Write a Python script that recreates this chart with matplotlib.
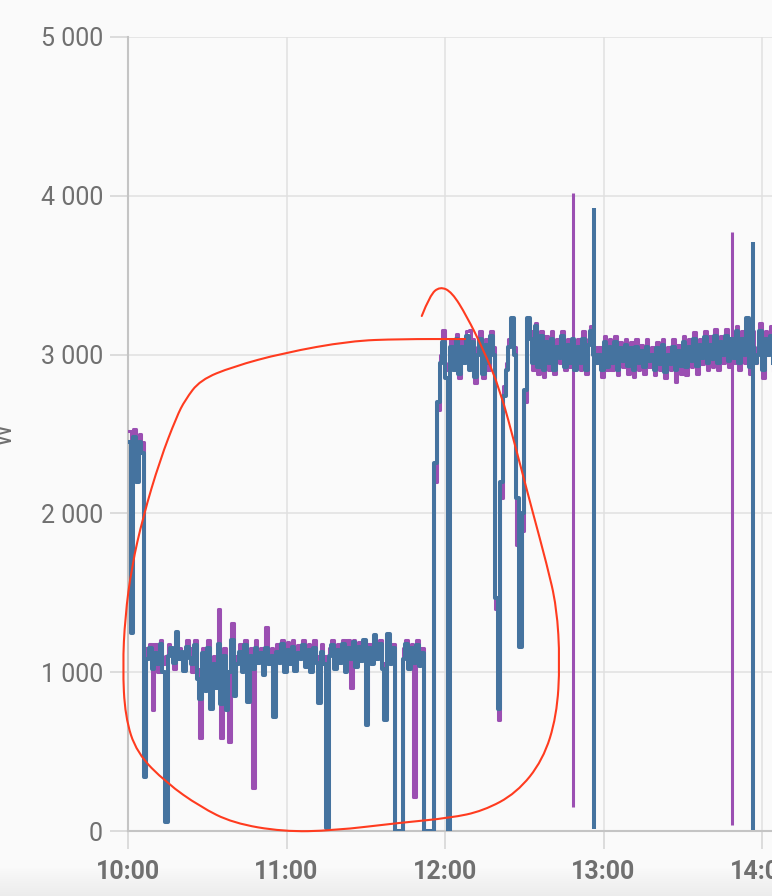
import numpy as np
import matplotlib
matplotlib.use('Agg')
import matplotlib.pyplot as plt
from matplotlib.ticker import FuncFormatter, FixedLocator
from matplotlib.colors import LinearSegmentedColormap
from matplotlib.path import Path
from matplotlib.patches import PathPatch

plt.rcParams['font.family'] = ['Roboto', 'DejaVu Sans']

# minutes after 10:00, one reading per minute
minutes = np.arange(245)

blue_w = [
    2450, 1250, 2480, 2200, 2450, 2380, 340, 1080, 1150, 1020,
    1120, 1050, 1180, 1000, 59, 1100, 1150, 1060, 1255, 1080,
    1130, 1010, 1160, 1090, 1050, 1170, 960, 830, 1120, 880,
    1150, 770, 1050, 900, 1180, 800, 1100, 760, 1000, 1200,
    850, 1050, 1130, 1000, 1170, 814, 1100, 1020, 1150, 1060,
    1120, 980, 1150, 1050, 1100, 720, 1130, 1060, 1180, 1000,
    1140, 1050, 1160, 1010, 1120, 1080, 1170, 1030, 1140, 1000,
    1150, 1060, 806, 1130, 1050, 19, 1100, 1170, 1020, 1140,
    1060, 1180, 1000, 1150, 1080, 1190, 1030, 1160, 1070, 1200,
    667, 1150, 1050, 1234, 1080, 1180, 1020, 700, 1240, 1050,
    1150, 0, 0, 0, 1080, 1180, 1020, 1150, 1060, 1170,
    1040, 1120, 0, 0, 0, 0, 2320, 2700, 2950, 3080,
    2850, 0, 3050, 2900, 3100, 2880, 3050, 2950, 3120, 2900,
    3080, 2860, 3000, 3100, 2880, 3060, 2950, 3120, 3000, 1470,
    768, 2200, 2740, 2900, 3050, 3230, 3000, 2100, 1160, 2000,
    2780, 3230, 3100, 2950, 3180, 2920, 3120, 2900, 3080, 2950,
    3100, 2900, 3050, 2980, 3120, 2920, 3060, 2950, 3100, 2900,
    3050, 2950, 3100, 2900, 3060, 3150, 3000, 2950, 3000, 2900,
    3080, 2920, 3050, 2950, 3080, 2900, 3040, 2960, 3060, 2930,
    3040, 2900, 3050, 2950, 3020, 2920, 3050, 2960, 3000, 2900,
    3040, 2940, 3060, 2890, 3000, 2940, 3050, 2900, 3020, 2930,
    3080, 2920, 3050, 2960, 3100, 2930, 3060, 2980, 3110, 2950,
    3060, 2970, 3120, 2950, 3080, 3000, 3120, 2960, 3100, 2980,
    3150, 2950, 3100, 3000, 3230, 2920, 3050, 2950, 3000, 3150,
    2900, 3100, 3000, 3120, 2950,
]

purple_w = [
    2520, 2300, 2530, 2350, 2500, 2450, 384, 1150, 1180, 762,
    1180, 1000, 1200, 1050, 1100, 1180, 1120, 1020, 1200, 1150,
    1100, 1050, 1200, 1150, 1000, 1200, 1020, 585, 1150, 950,
    1200, 820, 1100, 950, 1398, 585, 1150, 820, 562, 1310,
    900, 1100, 1180, 1050, 1200, 850, 1150, 270, 1200, 1100,
    1150, 1050, 1285, 1100, 1150, 1000, 1180, 1100, 1200, 1050,
    1190, 1100, 1200, 1050, 1170, 1120, 1200, 1080, 1180, 1050,
    1200, 1100, 850, 1180, 1100, 950, 1150, 1200, 1050, 1180,
    1100, 1200, 1050, 1200, 900, 1200, 1080, 1190, 1100, 1200,
    750, 1180, 1100, 1200, 1120, 1200, 1060, 750, 1200, 1100,
    1180, 0, 0, 0, 1150, 1200, 1050, 1180, 214, 1200,
    1080, 1150, 0, 0, 0, 0, 2200, 2650, 3000, 3155,
    2900, 2950, 3100, 2950, 3130, 2850, 3100, 3000, 3150, 3155,
    3100, 2820, 3050, 3150, 2850, 3100, 2900, 3150, 3050, 1400,
    700, 2100, 2800, 2950, 3100, 3150, 3050, 1800, 1400, 1890,
    2700, 3200, 3150, 2900, 3200, 2880, 3150, 2860, 3120, 2900,
    3150, 2880, 3100, 2950, 3150, 2900, 3100, 2920, 3050, 2950,
    3100, 2900, 3150, 2880, 3100, 3180, 3050, 2950, 3050, 2860,
    3120, 2900, 3100, 2900, 3120, 2870, 3080, 2920, 3100, 2880,
    3080, 2860, 3100, 2900, 3060, 2880, 3100, 2920, 3050, 2870,
    3080, 2900, 3100, 2850, 3050, 2900, 3100, 2830, 3060, 2880,
    3120, 2870, 3100, 2920, 3140, 2880, 3100, 2940, 3150, 2900,
    3120, 2920, 3160, 2900, 3120, 2950, 3160, 2920, 3100, 2950,
    3180, 2900, 3150, 2950, 3200, 2880, 3150, 2950, 3050, 3200,
    2850, 3150, 3050, 3180, 2900,
]

# single-reading surges that swing the full range (minute, low W, high W)
blue_spike_min = [176.5, 236.5]
blue_spike_low = [15, 6]
blue_spike_high = [3925, 3709]
purple_spike_min = [168.5, 228.5]
purple_spike_low = [153, 38]
purple_spike_high = [4020, 3770]

# hand-drawn red loop (minutes after 10:00, W)
loop_min = [111.2, 114.3, 118.1, 122.6, 128.2, 134.4, 140.8, 147.1, 153.3, 158.5,
            162.3, 163.5, 162.3, 157.1, 147.1, 134.4, 121.9, 103.0, 77.6, 58.7,
            39.7, 27.3, 14.6, 3.3, -1.1, -2.0, -1.1, 1.4, 5.7, 12.1,
            18.4, 21.6, 27.3, 39.7, 58.7, 84.0, 103.0, 127.6]
loop_w = [3243, 3375, 3429, 3394, 3243, 3035, 2783, 2393, 2002, 1681,
          1411, 1064, 724, 447, 239, 126, 82, 52, 2, -4,
          50, 153, 302, 491, 720, 1035, 1349, 1664, 1979, 2336,
          2609, 2714, 2840, 2924, 3010, 3086, 3098, 3098]

hour_ticks = [0, 60, 120, 180, 240]
hour_labels = ['10:00', '11:00', '12:00', '13:00', '14:00']
w_ticks = [0, 1000, 2000, 3000, 4000, 5000]

bg = '#fafafa'
grid_c = '#e0e0e0'
axis_c = '#c4c4c4'
text_c = '#707070'
blue_c = '#45739f'
purple_c = '#9b4fb2'


def smooth_stroke(xs, ys):
    # quadratic pieces through the midpoints, the read points act as handles
    pts = np.column_stack([xs, ys]).astype(float)
    verts = [pts[0]]
    codes = [Path.MOVETO]
    for i in range(1, len(pts) - 1):
        verts += [pts[i], (pts[i] + pts[i + 1]) / 2]
        codes += [Path.CURVE3, Path.CURVE3]
    verts.append(pts[-1])
    codes.append(Path.LINETO)
    return Path(verts, codes)


fig = plt.figure(figsize=(7.72, 8.96), dpi=100, facecolor=bg)

# soft shadow at the very bottom of the screen
gax = fig.add_axes([0, 0, 1, 28 / 896])
shade = LinearSegmentedColormap.from_list('shade', ['#ececec', bg])
gax.imshow(np.linspace(0, 1, 50).reshape(-1, 1)[::-1], aspect='auto', cmap=shade,
           extent=(0, 1, 0, 1))
gax.axis('off')

ax = fig.add_axes([128 / 772, 65 / 896, 644 / 772, 794 / 896])
ax.set_facecolor(bg)

ax.plot(minutes, purple_w, drawstyle='steps-post', color=purple_c, lw=2.2, zorder=3)
ax.vlines(purple_spike_min, purple_spike_low, purple_spike_high, color=purple_c,
          lw=2.2, zorder=3)
ax.plot(minutes, blue_w, drawstyle='steps-post', color=blue_c, lw=2.9, zorder=4)
ax.vlines(blue_spike_min, blue_spike_low, blue_spike_high, color=blue_c,
          lw=2.9, zorder=4)

loop = PathPatch(smooth_stroke(loop_min, loop_w), fill=False, edgecolor='#ff3b1f',
                 lw=1.5, zorder=6, clip_on=False, capstyle='round', joinstyle='round')
ax.add_patch(loop)

ax.set_xlim(0, 644 / 158.5 * 60)
ax.set_ylim(0, 5000)
ax.xaxis.set_major_locator(FixedLocator(hour_ticks))
ax.set_xticklabels(hour_labels, fontweight='bold')
ax.yaxis.set_major_locator(FixedLocator(w_ticks))
ax.yaxis.set_major_formatter(FuncFormatter(lambda v, p: format(int(v), ',').replace(',', ' ')))

ax.grid(True, color=grid_c, lw=1.1)
ax.set_axisbelow(True)
for side in ['top', 'right']:
    ax.spines[side].set_visible(False)
for side in ['left', 'bottom']:
    ax.spines[side].set_color(axis_c)
    ax.spines[side].set_linewidth(1.5)

ax.tick_params(axis='both', length=13, width=1.1, color='#d4d4d4', labelsize=18,
               labelcolor=text_c)
ax.tick_params(axis='y', pad=5)
ax.tick_params(axis='x', pad=8)

fig.text(4 / 772, 1 - 435 / 896, 'W', rotation=90, ha='center', va='center',
         fontsize=18, color=text_c)

fig.savefig('out.png', dpi=100, facecolor=bg)
